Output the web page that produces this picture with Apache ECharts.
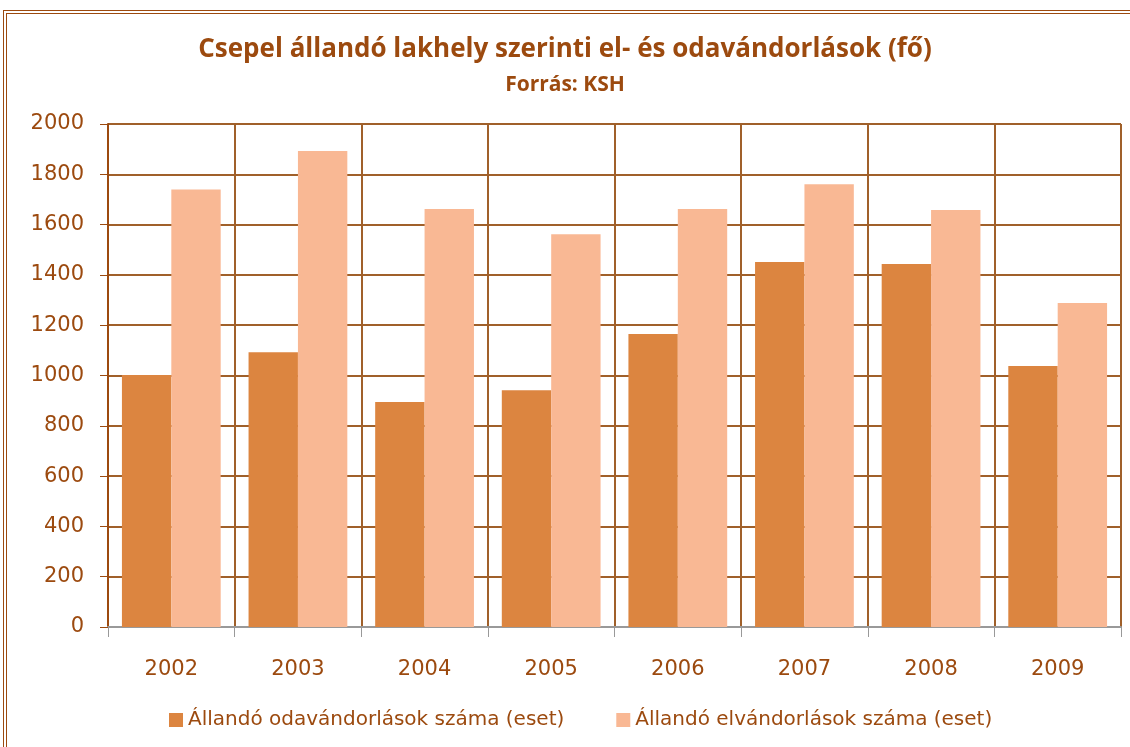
<!DOCTYPE html>
<html>
<head>
<meta charset="utf-8">
<script src="https://cdn.jsdelivr.net/npm/echarts@6/dist/echarts.min.js"></script>
<style>
  html, body { margin: 0; padding: 0; background: #fff; }
  #frame { position: absolute; left: 3px; top: 10px; width: 1140px; height: 760px; border: 4px double #9c4a0f; box-sizing: border-box; }
  #chart { position: absolute; left: 0; top: 0; width: 1130px; height: 747px; }
</style>
</head>
<body>
<div id="frame"></div>
<div id="chart"></div>
<script>
var years = ['2002', '2003', '2004', '2005', '2006', '2007', '2008', '2009'];
var odaValues = [1002, 1092, 895, 941, 1165, 1451, 1443, 1038];
var elValues = [1740, 1893, 1662, 1562, 1662, 1760, 1658, 1288];
var seriesNames = ['Állandó odavándorlások száma (eset)', 'Állandó elvándorlások száma (eset)'];

var brown = '#9c4a0f';
var myChart = echarts.init(document.getElementById('chart'));
var option = {
  animation: false,
  title: {
    text: 'Csepel állandó lakhely szerinti el- és odavándorlások (fő)',
    subtext: 'Forrás: KSH',
    left: 'center',
    top: 32,
    itemGap: 12,
    textStyle: { fontFamily: 'Open Sans', fontWeight: 'bold', fontSize: 26, color: brown },
    subtextStyle: { fontFamily: 'Open Sans', fontWeight: 'bold', fontSize: 21, color: brown }
  },
  legend: {
    bottom: 12,
    left: 164,
    itemWidth: 14,
    itemHeight: 14,
    itemGap: 52,
    icon: 'rect',
    textStyle: { fontFamily: 'DejaVu Sans', fontSize: 20, color: brown },
    data: seriesNames
  },
  grid: { left: 108, right: 9, top: 124, bottom: 120 },
  xAxis: {
    type: 'category',
    data: years,
    axisLine: { lineStyle: { color: '#999', width: 2 } },
    axisTick: { show: true, length: 10, lineStyle: { color: '#999' } },
    axisLabel: { margin: 32, fontFamily: 'DejaVu Sans', fontSize: 21, color: brown },
    splitLine: { show: true, lineStyle: { color: '#a0602a', width: 2 } }
  },
  yAxis: {
    type: 'value',
    min: 0,
    max: 2000,
    interval: 200,
    axisLine: { show: true, lineStyle: { color: brown, width: 2 } },
    axisTick: { show: true, length: 8, lineStyle: { color: brown } },
    axisLabel: {
      margin: 24, fontFamily: 'DejaVu Sans', fontSize: 21, color: brown,
      formatter: function (v) { return String(v); }
    },
    splitLine: { lineStyle: { color: '#a0602a', width: 2 } }
  },
  series: [
    {
      name: seriesNames[0],
      type: 'bar',
      data: odaValues,
      barGap: '0%',
      barCategoryGap: '22%',
      itemStyle: { color: '#dc8540' }
    },
    {
      name: seriesNames[1],
      type: 'bar',
      data: elValues,
      itemStyle: { color: '#f9b894' }
    }
  ]
};
myChart.setOption(option);
</script>
</body>
</html>
